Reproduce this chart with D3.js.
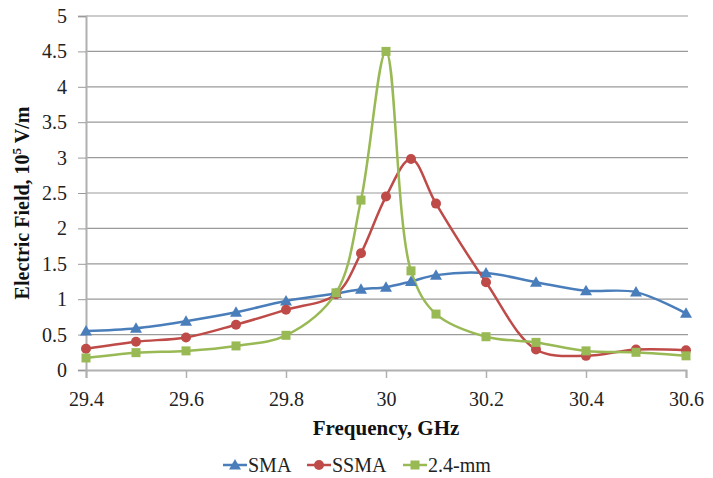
<!DOCTYPE html>
<html><head><meta charset="utf-8">
<script src="https://cdn.jsdelivr.net/npm/d3@7"></script>
<style>body{margin:0;background:#fff}svg{display:block}text{font-family:"Liberation Serif","Times New Roman",serif}</style>
</head><body>
<svg id="c" width="713" height="478"></svg>
<script>
const freqs = [29.4,29.5,29.6,29.7,29.8,29.9,29.95,30.0,30.05,30.1,30.2,30.3,30.4,30.5,30.6];
const sma   = [0.55,0.59,0.69,0.815,0.975,1.08,1.14,1.17,1.25,1.34,1.37,1.24,1.12,1.10,0.80];
const ssma  = [0.30,0.40,0.46,0.64,0.85,1.07,1.65,2.45,2.98,2.35,1.24,0.29,0.20,0.29,0.28];
const mm24  = [0.17,0.245,0.27,0.34,0.49,1.09,2.40,4.50,1.40,0.79,0.47,0.39,0.27,0.25,0.20];
const xTicks = [29.4,29.6,29.8,30,30.2,30.4,30.6];
const yTicks = [0,0.5,1,1.5,2,2.5,3,3.5,4,4.5,5];
const seriesNames = ["SMA","SSMA","2.4-mm"];
const seriesColors = ["#4a7ebb","#be4b48","#98b954"];
const seriesMarkers = ["triangle","circle","square"];

const svg = d3.select("#c");
const x = d3.scaleLinear().domain([29.4,30.6]).range([86,686]);
const y = d3.scaleLinear().domain([0,5]).range([370,16]);
const font = "Liberation Serif";

// gridlines
svg.append("g").selectAll("line").data(yTicks.slice(1)).join("line")
  .attr("x1",86).attr("x2",688).attr("y1",d=>y(d)).attr("y2",d=>y(d))
  .attr("stroke","#9a9a9a").attr("stroke-width",1.2);

// y axis
const yAx = svg.append("g").attr("transform","translate(86,0)")
  .call(d3.axisLeft(y).tickValues(yTicks).tickSize(8).tickPadding(11).tickFormat(d=>d));
yAx.attr("font-family",null);
yAx.select(".domain").attr("stroke","#b0b0b0").attr("stroke-width",2);
yAx.selectAll(".tick line").attr("stroke","#9a9a9a");
yAx.selectAll("text").style("font-family",font).style("font-size","20px").attr("fill","#222");

// x axis
const xAx = svg.append("g").attr("transform","translate(0,370)")
  .call(d3.axisBottom(x).tickValues(xTicks).tickSize(8).tickPadding(14).tickFormat(d=>d));
xAx.attr("font-family",null);
xAx.select(".domain").attr("stroke","#b0b0b0").attr("stroke-width",2);
xAx.selectAll(".tick line").attr("stroke","#b0b0b0").attr("stroke-width",1.5);
xAx.selectAll("text").style("font-family",font).style("font-size","20px").attr("fill","#222");

// titles
svg.append("text").attr("x",386).attr("y",435).attr("text-anchor","middle")
  .style("font-family",font).attr("font-weight","bold").style("font-size","21px").attr("fill","#111")
  .text("Frequency, GHz");
const yt = svg.append("text").attr("transform","translate(29,203) rotate(-90)").attr("text-anchor","middle")
  .style("font-family",font).attr("font-weight","bold").style("font-size","20px").attr("fill","#111");
yt.append("tspan").text("Electric Field,  10");
yt.append("tspan").style("font-size","13px").attr("dy",-8).text("5");
yt.append("tspan").attr("dy",8).text("  V/m");

const data = [sma, ssma, mm24];
const line = d3.line().x((d,i)=>x(freqs[i])).y(d=>y(d)).curve(d3.curveCatmullRom.alpha(0.5));

function marker(g, type, cx, cy, color){
  if(type==="triangle"){
    g.append("path").attr("d",`M${cx},${cy-6}L${cx+6},${cy+4.5}L${cx-6},${cy+4.5}Z`).attr("fill",color);
  } else if(type==="circle"){
    g.append("circle").attr("cx",cx).attr("cy",cy).attr("r",5).attr("fill",color);
  } else {
    g.append("rect").attr("x",cx-4.5).attr("y",cy-4.5).attr("width",9).attr("height",9).attr("fill",color);
  }
}

data.forEach((vals,k)=>{
  svg.append("path").datum(vals).attr("d",line).attr("fill","none")
    .attr("stroke",seriesColors[k]).attr("stroke-width",2.5);
});
data.forEach((vals,k)=>{
  const g = svg.append("g");
  vals.forEach((v,i)=>marker(g, seriesMarkers[k], x(freqs[i]), y(v), seriesColors[k]));
});

// legend
const legX = [223,307,403];
seriesNames.forEach((n,k)=>{
  const g = svg.append("g");
  g.append("line").attr("x1",legX[k]).attr("x2",legX[k]+24).attr("y1",465).attr("y2",465)
    .attr("stroke",seriesColors[k]).attr("stroke-width",2.5);
  marker(g, seriesMarkers[k], legX[k]+12, 465, seriesColors[k]);
  g.append("text").attr("x",legX[k]+25).attr("y",472).style("font-family",font).style("font-size","20px")
    .attr("fill","#222").text(n);
});
</script>
</body></html>
